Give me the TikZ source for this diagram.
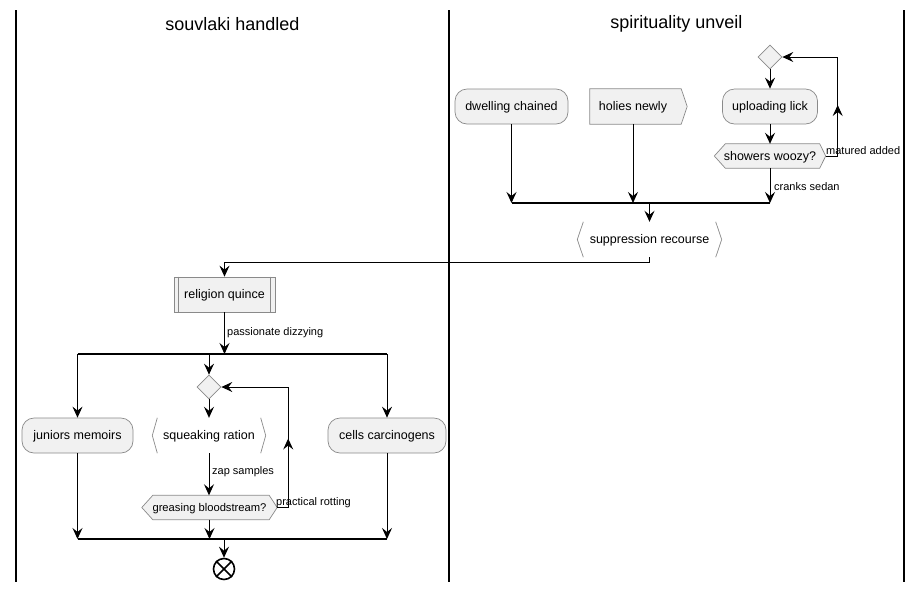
\documentclass[tikz,border=0pt]{standalone}
\usepackage{fontspec}
\setmainfont{Liberation Sans}
\usetikzlibrary{arrows.meta,backgrounds,calc,shapes.geometric,decorations.markings}
\definecolor{nodefill}{HTML}{F1F1F1}
\definecolor{nodeline}{HTML}{8A8A8A}
\begin{document}
\begin{tikzpicture}[x=1pt,y=-1pt,
  >={Stealth[length=11pt,width=10pt,inset=4pt]},
  every node/.style={font=\fontsize{12.5}{14}\selectfont, inner sep=0pt, text=black},
  txt/.style={text height=9pt, text depth=1pt},
  act/.style={txt, draw=nodeline, fill=nodefill, rounded corners=12pt, minimum height=35pt, line width=0.7pt},
  plainn/.style={txt, minimum height=35pt},
  hexn/.style={txt, minimum height=24pt},
  subn/.style={txt, draw=nodeline, fill=nodefill, minimum height=35pt, line width=0.7pt},
  dia/.style={diamond, aspect=1, draw=nodeline, fill=nodefill, minimum width=24pt, minimum height=24pt, line width=0.7pt},
  endn/.style={circle, draw=black, line width=1.6pt, minimum size=21pt},
  shp/.style={draw=nodeline, fill=nodefill, line width=0.7pt},
  brk/.style={draw=nodeline, line width=0.7pt},
  conn/.style={line width=1pt, ->},
  bar/.style={line width=2.2pt},
  lbl/.style={font=\fontsize{11}{13}\selectfont, anchor=west, text height=8pt, text depth=2pt},
  lane/.style={line width=1.4pt},
  ttl/.style={font=\fontsize{18}{21}\selectfont}]
\begin{pgfonlayer}{background}
\fill[white] (0,0) rectangle (921,590);
\end{pgfonlayer}
\useasboundingbox (0,0) rectangle (921,590);

% lanes
\coordinate (L1t) at (16,10);  \coordinate (L1b) at (16,582);
\coordinate (L2t) at (449,10); \coordinate (L2b) at (449,582);
\coordinate (L3t) at (904,10); \coordinate (L3b) at (904,582);
\draw[lane] (L1t) -- (L1b);
\draw[lane] (L2t) -- (L2b);
\draw[lane] (L3t) -- (L3b);
\node[ttl] (t1) at (232.5,24) {souvlaki handled};
\node[ttl] (t2) at (676.5,24) {spirituality unveil};

% right lane
\node[dia] (d1) at (770,57) {};
\node[act, minimum width=95pt] (up) at (770,106.5) {uploading lick};
\node[hexn, minimum width=111pt] (sw) at (770,156) {showers woozy?};
\begin{pgfonlayer}{background}
\draw[shp] (sw.west) -- ([xshift=11pt]sw.north west) -- ([xshift=-6pt]sw.north east) -- (sw.east) -- ([xshift=-6pt]sw.south east) -- ([xshift=11pt]sw.south west) -- cycle;
\end{pgfonlayer}
\node[act, minimum width=113pt] (dw) at (511.5,106.5) {dwelling chained};
\node[plainn, minimum width=86pt] (hn) at (633,106.5) {holies newly};
\begin{pgfonlayer}{background}
\draw[shp] (hn.north west) -- ([xshift=5pt]hn.north east) -- ([xshift=11pt]hn.east) -- ([xshift=5pt]hn.south east) -- (hn.south west) -- cycle;
\end{pgfonlayer}

\draw[conn] (d1.south) -- (up.north);
\draw[conn] (up.south) -- (sw.north);
\draw[conn, postaction={decorate}, decoration={markings, mark=at position 63pt with {\arrow{>}}}]
  (sw.east) -- ++(12,0) |- (d1.east);
\node[lbl] (lma) at (826,151) {matured added};

\coordinate (b1l) at (511.5,203);
\coordinate (b1m) at (649.5,203);
\coordinate (b1r) at (770,203);
\draw[bar] (b1l) -- (b1r);
\draw[conn] (dw.south) -- (b1l);
\draw[conn] (hn.south) -- (hn.south |- b1l);
\draw[conn] (sw.south) -- (b1r);
\node[lbl] (lcs) at (774,187) {cranks sedan};

\node[plainn, minimum width=144pt] (sr) at (649.5,239.5) {suppression recourse};
\draw[brk] ([xshift=6pt]sr.north west) -- (sr.west) -- ([xshift=6pt]sr.south west);
\draw[brk] ([xshift=-6pt]sr.north east) -- (sr.east) -- ([xshift=-6pt]sr.south east);
\draw[conn] (b1m) -- (sr.north);

% left lane
\node[subn, minimum width=101pt] (rq) at (224.5,294.5) {religion quince};
\draw[nodeline, line width=0.7pt] ([xshift=5pt]rq.north west) -- ([xshift=5pt]rq.south west);
\draw[nodeline, line width=0.7pt] ([xshift=-5pt]rq.north east) -- ([xshift=-5pt]rq.south east);
\draw[conn] (sr.south) -- ++(0,5) -| (rq.north);

\coordinate (b2l) at (77.5,354);
\coordinate (b2m) at (209,354);
\coordinate (b2r) at (387,354);
\draw[conn] (rq.south) -- (rq.south |- b2l);
\node[lbl] (lpd) at (227,332) {passionate dizzying};
\draw[bar] (b2l) -- (b2r);

\node[act, minimum width=111pt] (jm) at (77.5,435.5) {juniors memoirs};
\node[act, minimum width=118pt] (cc) at (387,435.5) {cells carcinogens};
\node[dia] (d2) at (209,387) {};
\node[plainn, minimum width=113pt] (sq) at (209,435.5) {squeaking ration};
\draw[brk] ([xshift=5pt]sq.north west) -- (sq.west) -- ([xshift=5pt]sq.south west);
\draw[brk] ([xshift=-5pt]sq.north east) -- (sq.east) -- ([xshift=-5pt]sq.south east);
\node[hexn, minimum width=135pt, font=\fontsize{11.2}{13}\selectfont] (gb) at (209.5,507.5) {greasing bloodstream?};
\begin{pgfonlayer}{background}
\draw[shp] (gb.west) -- ([xshift=11pt]gb.north west) -- ([xshift=-8pt]gb.north east) -- (gb.east) -- ([xshift=-8pt]gb.south east) -- ([xshift=11pt]gb.south west) -- cycle;
\end{pgfonlayer}

\draw[conn] (b2l) -- (jm.north);
\draw[conn] (b2m) -- (d2.north);
\draw[conn] (b2r) -- (cc.north);
\draw[conn] (d2.south) -- (sq.north);
\draw[conn] (sq.south) -- (sq.south |- gb.north);
\node[lbl] (lzs) at (212,471.5) {zap samples};
\draw[conn, postaction={decorate}, decoration={markings, mark=at position 80pt with {\arrow{>}}}]
  (gb.east) -- ++(11,0) |- (d2.east);
\node[lbl] (lpr) at (276,502) {practical rotting};

\coordinate (b3l) at (77.5,539);
\coordinate (b3m) at (224,539);
\coordinate (b3r) at (387,539);
\draw[conn] (jm.south) -- (b3l);
\draw[conn] (gb.south) -- (gb.south |- b3l);
\draw[conn] (cc.south) -- (b3r);
\draw[bar] (b3l) -- (b3r);

\node[endn] (en) at (224,569) {};
\draw[line width=1.6pt] (en.45) -- (en.225);
\draw[line width=1.6pt] (en.135) -- (en.315);
\draw[conn] (b3m) -- (en.north);
\end{tikzpicture}
\end{document}
